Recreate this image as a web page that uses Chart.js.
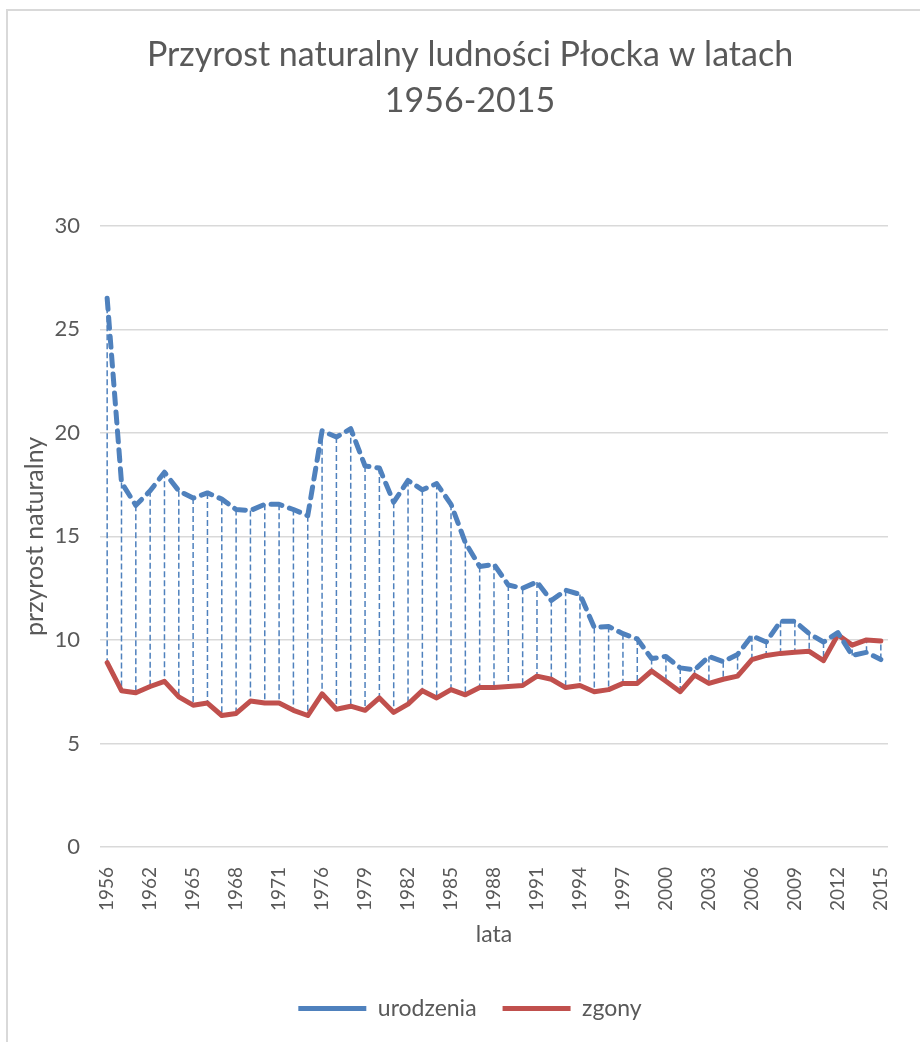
<!DOCTYPE html>
<html>
<head>
<meta charset="utf-8">
<script src="https://cdn.jsdelivr.net/npm/chart.js@4.4.1/dist/chart.umd.min.js"></script>
<style>
html, body { margin: 0; padding: 0; background: #fff; }
#wrap { position: relative; width: 920px; height: 1042px; overflow: hidden; }
#frame { position: absolute; left: 6px; top: 9px; width: 940px; height: 1060px; border-top: 2px solid #d9d9d9; border-left: 2px solid #d9d9d9; }
#chart { position: absolute; left: 0; top: 0; }
</style>
</head>
<body>
<div id="wrap">
	<div id="frame"></div>
	<canvas id="chart" width="920" height="1042"></canvas>
</div>
<script>
// dane
var lata = [1956, 1960, 1961, 1962, 1963, 1964, 1965, 1966, 1967, 1968, 1969, 1970, 1971,
	1972, 1974, 1976, 1977, 1978, 1979, 1980, 1981, 1982, 1983, 1984, 1985, 1986, 1987,
	1988, 1989, 1990, 1991, 1992, 1993, 1994, 1995, 1996, 1997, 1998, 1999, 2000, 2001,
	2002, 2003, 2004, 2005, 2006, 2007, 2008, 2009, 2010, 2011, 2012, 2013, 2014, 2015];
var urodzenia = [26.5, 17.6, 16.5, 17.2, 18.1, 17.2, 16.85, 17.1, 16.8, 16.3, 16.25, 16.55, 16.55,
	16.3, 16.0, 20.1, 19.8, 20.2, 18.4, 18.3, 16.65, 17.7, 17.25, 17.55, 16.55, 14.7, 13.55,
	13.65, 12.65, 12.5, 12.8, 11.9, 12.4, 12.2, 10.6, 10.65, 10.3, 10.05, 9.1, 9.2, 8.65,
	8.55, 9.2, 8.95, 9.3, 10.2, 9.9, 10.9, 10.9, 10.3, 9.9, 10.35, 9.25, 9.4, 9.05];
var zgony = [8.9, 7.55, 7.45, 7.75, 8.0, 7.25, 6.85, 6.95, 6.35, 6.45, 7.05, 6.95, 6.95,
	6.6, 6.35, 7.4, 6.65, 6.8, 6.6, 7.2, 6.5, 6.9, 7.55, 7.2, 7.6, 7.35, 7.7,
	7.7, 7.75, 7.8, 8.25, 8.1, 7.7, 7.8, 7.5, 7.6, 7.9, 7.9, 8.5, 8.0, 7.5,
	8.3, 7.9, 8.1, 8.25, 9.05, 9.25, 9.35, 9.4, 9.45, 9.0, 10.25, 9.75, 10.0, 9.95];
var yTicks = [0, 5, 10, 15, 20, 25, 30];

var niebieski = '#4f81bd';
var czerwony = '#c0504d';
var szary = '#595959';
var siatka = '#d9d9d9';
var font = 'Lato, "Open Sans", sans-serif';

// pionowe linie miedzy seriami
var dropLines = {
	id: 'dropLines',
	beforeDatasetsDraw: function(chart) {
		var a = chart.getDatasetMeta(0).data;
		var b = chart.getDatasetMeta(1).data;
		var ctx = chart.ctx;
		ctx.save();
		ctx.strokeStyle = niebieski;
		ctx.lineWidth = 1.5;
		ctx.setLineDash([6, 3]);
		for (var i = 0; i < a.length; i++) {
			ctx.beginPath();
			ctx.moveTo(a[i].x, a[i].y);
			ctx.lineTo(b[i].x, b[i].y);
			ctx.stroke();
		}
		ctx.restore();
	}
};

new Chart(document.getElementById('chart'), {
	type: 'line',
	data: {
		labels: lata,
		datasets: [{
			label: 'urodzenia',
			data: urodzenia,
			borderColor: niebieski,
			backgroundColor: niebieski,
			borderWidth: 5,
			borderDash: [11, 8],
			borderCapStyle: 'round',
			borderJoinStyle: 'round',
			pointRadius: 0,
			tension: 0
		}, {
			label: 'zgony',
			data: zgony,
			borderColor: czerwony,
			backgroundColor: czerwony,
			borderWidth: 5,
			borderCapStyle: 'round',
			borderJoinStyle: 'round',
			pointRadius: 0,
			tension: 0
		}]
	},
	options: {
		responsive: false,
		animation: false,
		layout: { padding: { left: 52, right: 32, top: 0, bottom: 12 } },
		plugins: {
			title: {
				display: true,
				text: ['Przyrost naturalny ludności Płocka w latach', '1956-2015'],
				color: szary,
				font: { family: font, size: 34, weight: 'normal', lineHeight: 1.35 },
				padding: { top: 32, bottom: 102 }
			},
			legend: {
				position: 'bottom',
				labels: {
					usePointStyle: true,
					pointStyle: 'line',
					pointStyleWidth: 68,
					color: szary,
					font: { family: font, size: 23 },
					padding: 26
				}
			},
			tooltip: { enabled: false }
		},
		scales: {
			x: {
				offset: true,
				grid: { display: false },
				border: { display: false },
				afterFit: function(s) { s.height = 124; },
				ticks: {
					autoSkip: false,
					minRotation: 90,
					maxRotation: 90,
					color: szary,
					font: { family: font, size: 19 },
					padding: 12,
					callback: function(v, i) { return i % 3 == 0 ? lata[i] : ''; }
				},
				title: {
					display: true,
					text: 'lata',
					color: szary,
					font: { family: font, size: 23 },
					padding: { top: 0, bottom: 23 }
				}
			},
			y: {
				min: 0,
				max: 30,
				border: { display: false },
				grid: { color: siatka, lineWidth: 1.5, drawTicks: false },
				afterBuildTicks: function(s) { s.ticks = yTicks.map(function(v) { return { value: v }; }); },
				afterFit: function(s) { s.width = 48; },
				ticks: {
					color: szary,
					font: { family: font, size: 22 },
					padding: 20
				},
				title: {
					display: true,
					text: 'przyrost naturalny',
					color: szary,
					font: { family: font, size: 25 },
					padding: { top: -32, bottom: 0 }
				}
			}
		}
	},
	plugins: [dropLines]
});
</script>
</body>
</html>
